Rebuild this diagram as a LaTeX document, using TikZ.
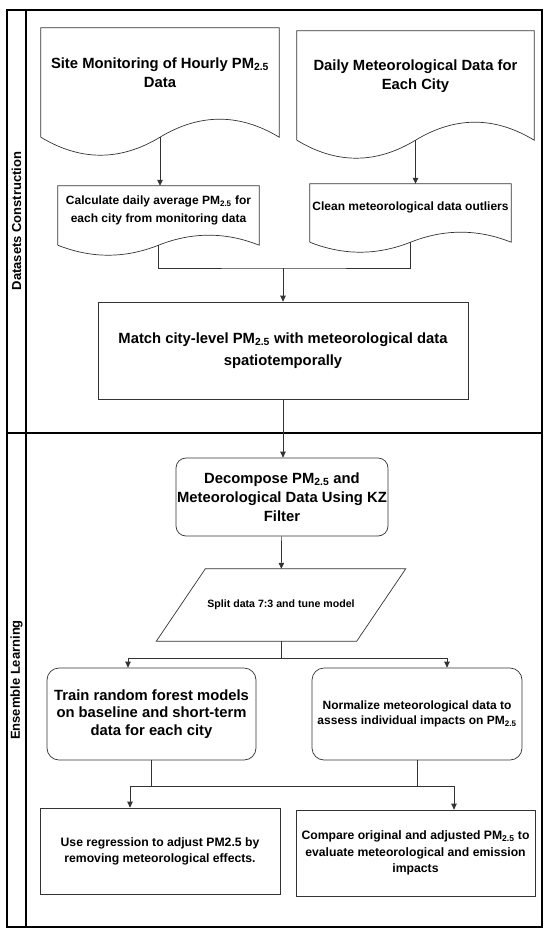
\documentclass[tikz,border=0pt]{standalone}
\usepackage{fontspec}
\setmainfont{Liberation Sans}
\usetikzlibrary{arrows.meta,calc}
\newcommand{\pmsub}{PM\textsubscript{2.5}}
\newcommand{\docwave}[2]{%
  \draw[shapeline] (#1.south west) -- (#1.north west) -- (#1.north east) -- (#1.south east)
    .. controls ($(#1.south east)!1/3!(#1.south)+(0,-4/3*#2)$) and ($(#1.south)!1/3!(#1.south east)+(0,-4/3*#2)$) .. (#1.south)
    .. controls ($(#1.south)!1/3!(#1.south west)+(0,4/3*#2)$) and ($(#1.south west)!1/3!(#1.south)+(0,4/3*#2)$) .. (#1.south west);}

\begin{document}
\begin{tikzpicture}[x=1pt,y=-1pt,
        >={Triangle[length=6pt,width=5.5pt]},
        lane/.style={line width=1.6pt},
        shapeline/.style={draw=black!80, line width=0.7pt},
        flow/.style={shapeline, ->},
        txt/.style 2 args={font=\bfseries\fontsize{#1}{#2}\selectfont},
        lanelabel/.style={rotate=90, txt={13}{15}},
        docbox/.style={inner sep=0pt, align=center},
        procbox/.style={shapeline, align=center, inner sep=1pt},
        roundbox/.style={procbox, rounded corners=10pt}]

            \useasboundingbox (0,0) rectangle (550,934);

            \draw[lane] (7,10) rectangle (542,927);
            \draw[lane] (26,10) -- (26,927);
            \draw[lane] (7,433) -- (542,433);
            \node[lanelabel] (dataset) at (16.5,221) {Datasets Construction};
            \node[lanelabel] (ensemble) at (16.5,680) {Ensemble Learning};

            \node[docbox, txt={14.8}{19}, minimum width=238pt, minimum height=109pt, text depth=20pt] (site) at (160,82.5) {Site Monitoring of Hourly \pmsub\\Data};
            \docwave{site}{18}
            \node[docbox, txt={14.8}{19}, minimum width=237pt, minimum height=109pt, text depth=22pt] (daily) at (415.5,85.5) {Daily Meteorological Data for\\Each City};
            \docwave{daily}{18}
            \node[docbox, txt={12}{18}, minimum width=201pt, minimum height=59pt, text depth=12pt] (avg) at (158.5,215.5) {Calculate daily average \pmsub{} for\\each city from monitoring data};
            \docwave{avg}{10}
            \node[docbox, txt={12}{18}, minimum width=201pt, minimum height=58pt, text depth=13pt] (clean) at (410.5,213) {Clean meteorological data outliers};
            \docwave{clean}{10}

            \node[procbox, txt={14.8}{22}, minimum width=370pt, minimum height=97pt] (match) at (283,350.5) {Match city-level \pmsub{} with meteorological data\\spatiotemporally};
            \node[roundbox, txt={14.8}{19}, inner xsep=0pt, minimum width=212pt, minimum height=78pt] (decomp) at (282,497) {Decompose \pmsub{} and\\Meteorological Data Using KZ\\Filter};
            \node[docbox, txt={10.6}{13}, minimum width=200pt, minimum height=72pt] (split) at (281,605) {Split data 7:3 and tune model};
            \draw[shapeline] ([xshift=24.5pt]split.north west) -- ([xshift=24.5pt]split.north east) -- ([xshift=-24.5pt]split.south east) -- ([xshift=-24.5pt]split.south west) -- cycle;

            \node[roundbox, txt={14.8}{17.5}, rounded corners=12pt, minimum width=209pt, minimum height=92pt] (train) at (151.5,714) {Train random forest models\\on baseline and short-term\\data for each city};
            \node[roundbox, txt={12}{15}, rounded corners=12pt, minimum width=210pt, minimum height=92pt] (norm) at (417,714) {Normalize meteorological data to\\assess individual impacts on \pmsub};
            \node[procbox, txt={12.2}{16}, minimum width=240pt, minimum height=86pt] (adjust) at (160,851) {Use regression to adjust PM2.5 by\\removing meteorological effects.};
            \node[procbox, txt={12.2}{16.5}, minimum width=239pt, minimum height=86pt] (compare) at (415.5,853) {Compare original and adjusted \pmsub{} to\\evaluate meteorological and emission\\impacts};

            \coordinate (mergeA) at (283,268);
            \coordinate (forkL) at (128,658);
            \coordinate (forkR) at (447,658);
            \coordinate (busL) at (130,786);
            \coordinate (busR) at (454,786);

            \draw[flow] (site.south) -- (site.south |- avg.north);
            \draw[flow] (daily.south) -- (daily.south |- clean.north);
            \draw[shapeline] (avg.south) |- (mergeA) -| (clean.south);
            \draw[flow] (mergeA) -- (match.north);
            \draw[flow] (match.south) -- (match.south |- decomp.north);
            \draw[flow] (decomp) -- (split);
            \draw[flow] (split.south) |- (forkL) -- (forkL |- train.north);
            \draw[flow] (split.south) |- (forkR) -- (forkR |- norm.north);
            \draw[shapeline] (busL) -- (busR);
            \draw[shapeline] (train.south) -- (train.south |- busL);
            \draw[shapeline] (norm.south) -- (norm.south |- busL);
            \draw[flow] (busL) -- (busL |- adjust.north);
            \draw[flow] (busR) -- (busR |- compare.north);
        \end{tikzpicture}
\end{document}
